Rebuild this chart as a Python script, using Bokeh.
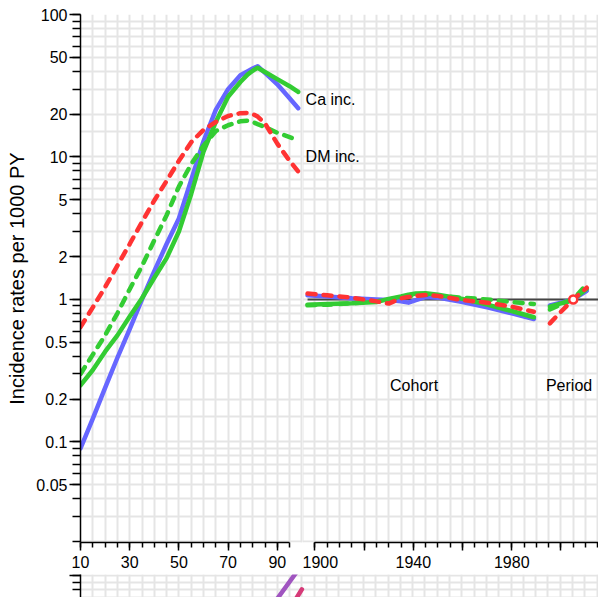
from bokeh.plotting import figure
from bokeh.models import Range1d, FixedTicker
from bokeh.layouts import column, row
from bokeh.embed import file_html
from bokeh.resources import INLINE
from bokeh.core.properties import value

# ---------------- data ----------------
ages = [10, 15, 20, 25, 30, 35, 40, 45, 50, 55, 60, 65, 70, 75, 78, 80, 82, 85, 90, 95, 98.5]
ca_blue_age  = [0.09, 0.146, 0.24, 0.39, 0.62, 1.0, 1.58, 2.45, 3.7, 6.9, 12.9, 21.4, 29.9, 37.5, 40.0, 41.8, 43.3, 38.9, 32.4, 25.8, 22.0]
ca_green_age = [0.25, 0.32, 0.43, 0.56, 0.76, 1.02, 1.42, 1.95, 3.0, 5.5, 10.9, 17.6, 26.5, 33.6, 38.0, 40.3, 42.3, 39.5, 35.2, 31.4, 28.6]
dm_red_age   = [0.64, 0.88, 1.22, 1.73, 2.45, 3.5, 4.95, 6.8, 9.4, 12.7, 15.5, 17.6, 19.4, 20.3, 20.4, 20.0, 19.2, 17.2, 12.4, 9.4, 7.9]
dm_green_age = [0.30, 0.41, 0.56, 0.80, 1.18, 1.72, 2.6, 3.9, 6.2, 8.9, 12.0, 15.2, 16.7, 17.8, 18.0, 17.6, 17.0, 16.2, 14.8, 13.8, 13.1]

cohorts = [1897, 1905, 1915, 1925, 1930, 1935, 1938, 1941, 1945, 1950, 1960, 1970, 1980, 1989]
ca_blue_coh  = [1.07, 1.05, 1.02, 1.00, 0.99, 0.97, 0.95, 0.99, 1.04, 1.03, 0.96, 0.88, 0.80, 0.73]
ca_green_coh = [0.92, 0.93, 0.94, 0.96, 1.01, 1.05, 1.08, 1.10, 1.105, 1.08, 1.01, 0.92, 0.83, 0.75]
dm_red_coh   = [1.10, 1.07, 1.03, 0.97, 0.935, 1.02, 1.04, 1.06, 1.075, 1.06, 0.99, 0.95, 0.89, 0.82]
dm_green_coh = [0.91, 0.92, 0.94, 0.97, 1.00, 1.03, 1.05, 1.07, 1.08, 1.06, 1.03, 1.00, 0.96, 0.93]

periods = [1995.5, 2000, 2005, 2010.5]
ca_blue_per  = [0.91, 0.95, 1.0, 1.15]
ca_green_per = [0.89, 0.94, 1.0, 1.19]
dm_red_per   = [0.68, 0.82, 1.0, 1.21]
dm_green_per = [0.85, 0.92, 1.0, 1.28]
ref_period = [2005]
ref_rate = [1.0]

# second (cut-off) panel
ages2 = [88, 98]
purple_age2 = [61.6, 106.6]
ages2b = [97, 100]
pink_age2 = [66.0, 80.0]

# ticks / labels
age_major = [10, 30, 50, 70, 90]
age_minor = list(range(10, 96, 5))
cal_major = [1900, 1920, 1940, 1960, 1980, 2000]
cal_labels = ["1900", "", "1940", "", "1980", ""]
cal_minor = list(range(1900, 2020, 5))
y_major = [0.05, 0.1, 0.2, 0.5, 1, 2, 5, 10, 20, 50, 100]
y_labels = ["0.05", "0.1", "0.2", "0.5", "1", "2", "5", "10", "20", "50", "100"]
decades = [0.01, 0.1, 1, 10]
y_minor = [m * d for d in decades for m in range(1, 10) if m * d >= 0.02] + [100]
y_grid = [m * d for d in decades for m in [1, 1.5, 2, 3, 4, 5, 6, 7, 8, 9] if m * d >= 0.02] + [100]

# ---------------- style ----------------
BLUE = "#6666ff"
GREEN = "#33cc33"
RED = "#ff3333"
PURPLE = "#a055c0"
PINK = "#d63a78"
GRID = "#e5e5e5"
FONT = "Liberation Sans"
LW = 4.5
DASH = "8 8"

PXU = 2.46          # pixels per year
YR = Range1d(0.0197, 100)
AGE_END = 10 + 222 / PXU
CAL_START = 1794.7 + AGE_END
CAL_END = CAL_START + 296 / PXU


def style_common(p):
    p.outline_line_color = None
    p.background_fill_color = "white"
    p.border_fill_color = "white"
    p.xgrid.grid_line_color = GRID
    p.ygrid.grid_line_color = GRID
    p.xgrid.grid_line_width = 2
    p.ygrid.grid_line_width = 2
    p.ygrid.ticker = FixedTicker(ticks=y_grid)


def style_xaxis(ax):
    ax.axis_line_width = 1.5
    ax.axis_line_color = "black"
    ax.major_tick_line_width = 1.5
    ax.minor_tick_line_width = 1.5
    ax.major_tick_out = 8
    ax.major_tick_in = 0
    ax.minor_tick_out = 5
    ax.minor_tick_in = 0
    ax.major_label_standoff = 5
    ax.major_label_text_font = FONT
    ax.major_label_text_font_size = "16px"
    ax.major_label_text_color = "black"


# ---- left (age) panel ----
p1 = figure(width=302, height=574, x_range=Range1d(10, AGE_END), y_range=YR,
            y_axis_type="log", output_backend="svg", toolbar_location=None,
            min_border_left=80, min_border_right=0, min_border_top=14, min_border_bottom=32)
style_common(p1)
p1.xgrid.ticker = FixedTicker(ticks=list(range(10, 101, 5)))
xa = p1.xaxis[0]
xa.ticker = FixedTicker(ticks=age_major, minor_ticks=age_minor)
xa.bounds = (10, 95)
style_xaxis(xa)
ya = p1.yaxis[0]
ya.ticker = FixedTicker(ticks=y_major, minor_ticks=y_minor)
ya.major_label_overrides = dict(zip(y_major, y_labels))
ya.axis_line_width = 1.5
ya.major_tick_line_width = 1.5
ya.minor_tick_line_width = 1.5
ya.major_tick_out = 11
ya.major_tick_in = 0
ya.minor_tick_out = 8
ya.minor_tick_in = 0
ya.major_label_standoff = 2
ya.major_label_text_font = FONT
ya.major_label_text_font_size = "16px"
ya.major_label_text_color = "black"
ya.axis_label = "Incidence rates per 1000 PY"
ya.axis_label_text_font = FONT
ya.axis_label_text_font_size = "20px"
ya.axis_label_text_font_style = "normal"
ya.axis_label_text_color = "black"
ya.axis_label_standoff = 5

p1.line(ages, ca_blue_age, line_color=BLUE, line_width=LW, line_join="round", line_cap="round")
p1.line(ages, ca_green_age, line_color=GREEN, line_width=LW, line_join="round", line_cap="round")
p1.line(ages, dm_green_age, line_color=GREEN, line_width=LW, line_dash=DASH, line_cap="round")
p1.line(ages, dm_red_age, line_color=RED, line_width=LW, line_dash=DASH, line_cap="round")

# ---- right (cohort / period) panel ----
p2 = figure(width=296, height=574, x_range=Range1d(CAL_START, CAL_END), y_range=YR,
            y_axis_type="log", y_axis_location=None, output_backend="svg", toolbar_location=None,
            min_border_left=0, min_border_right=0, min_border_top=14, min_border_bottom=32)
style_common(p2)
p2.xgrid.ticker = FixedTicker(ticks=list(range(1895, 2020, 5)))
xb = p2.xaxis[0]
xb.ticker = FixedTicker(ticks=cal_major, minor_ticks=cal_minor)
xb.major_label_overrides = dict(zip(cal_major, cal_labels))
xb.bounds = (1900, CAL_END)
style_xaxis(xb)

p2.line([cohorts[0], CAL_END], [1, 1], line_color="#444444", line_width=2)
for xs, ys in ((cohorts, ca_blue_coh), (periods, ca_blue_per)):
    p2.line(xs, ys, line_color=BLUE, line_width=LW, line_join="round", line_cap="round")
for xs, ys in ((cohorts, ca_green_coh), (periods, ca_green_per)):
    p2.line(xs, ys, line_color=GREEN, line_width=LW, line_join="round", line_cap="round")
for xs, ys in ((cohorts, dm_green_coh), (periods, dm_green_per)):
    p2.line(xs, ys, line_color=GREEN, line_width=LW, line_dash=DASH, line_cap="round")
for xs, ys in ((cohorts, dm_red_coh), (periods, dm_red_per)):
    p2.line(xs, ys, line_color=RED, line_width=LW, line_dash=DASH, line_cap="round")
p2.scatter(ref_period, ref_rate, marker="circle", size=8, fill_color="white",
           line_color=RED, line_width=2.5)

p2.text(x=[1896.2, 1896.2], y=[25.3, 10.1], text=["Ca inc.", "DM inc."],
        text_font=value(FONT), text_font_size="16px", text_align="left",
        text_baseline="middle", text_color="black")
p2.text(x=[1940.3, 2003.3], y=[0.249, 0.249], text=["Cohort", "Period"],
        text_font=value(FONT), text_font_size="16px", text_align="center",
        text_baseline="middle", text_color="black")

# ---- second, cut-off panel ----
p3 = figure(width=598, height=23, x_range=Range1d(10, 10 + 518 / PXU),
            y_range=Range1d(100 * 10 ** (-22 / 142.5), 100 * 10 ** (1 / 142.5)),
            y_axis_type="log", x_axis_location=None, output_backend="svg", toolbar_location=None,
            min_border_left=80, min_border_right=0, min_border_top=0, min_border_bottom=0)
p3.outline_line_color = None
p3.xgrid.ticker = FixedTicker(ticks=list(range(10, 221, 5)))
p3.ygrid.ticker = FixedTicker(ticks=[70, 80, 90, 100])
p3.xgrid.grid_line_color = GRID
p3.ygrid.grid_line_color = GRID
p3.xgrid.grid_line_width = 2
p3.ygrid.grid_line_width = 2
yc = p3.yaxis[0]
yc.ticker = FixedTicker(ticks=[100], minor_ticks=[70, 80, 90, 100])
yc.axis_line_width = 1.5
yc.major_tick_line_width = 1.5
yc.minor_tick_line_width = 1.5
yc.major_tick_out = 11
yc.major_tick_in = 0
yc.minor_tick_out = 8
yc.minor_tick_in = 0
yc.major_label_text_color = None
yc.major_label_text_font_size = "16px"
p3.line(ages2, purple_age2, line_color=PURPLE, line_width=LW, line_cap="round")
p3.line(ages2b, pink_age2, line_color=PINK, line_width=LW, line_cap="round")

layout = column(row(p1, p2, spacing=0), p3, spacing=0)
open("out.html", "w").write(file_html(layout, INLINE))
